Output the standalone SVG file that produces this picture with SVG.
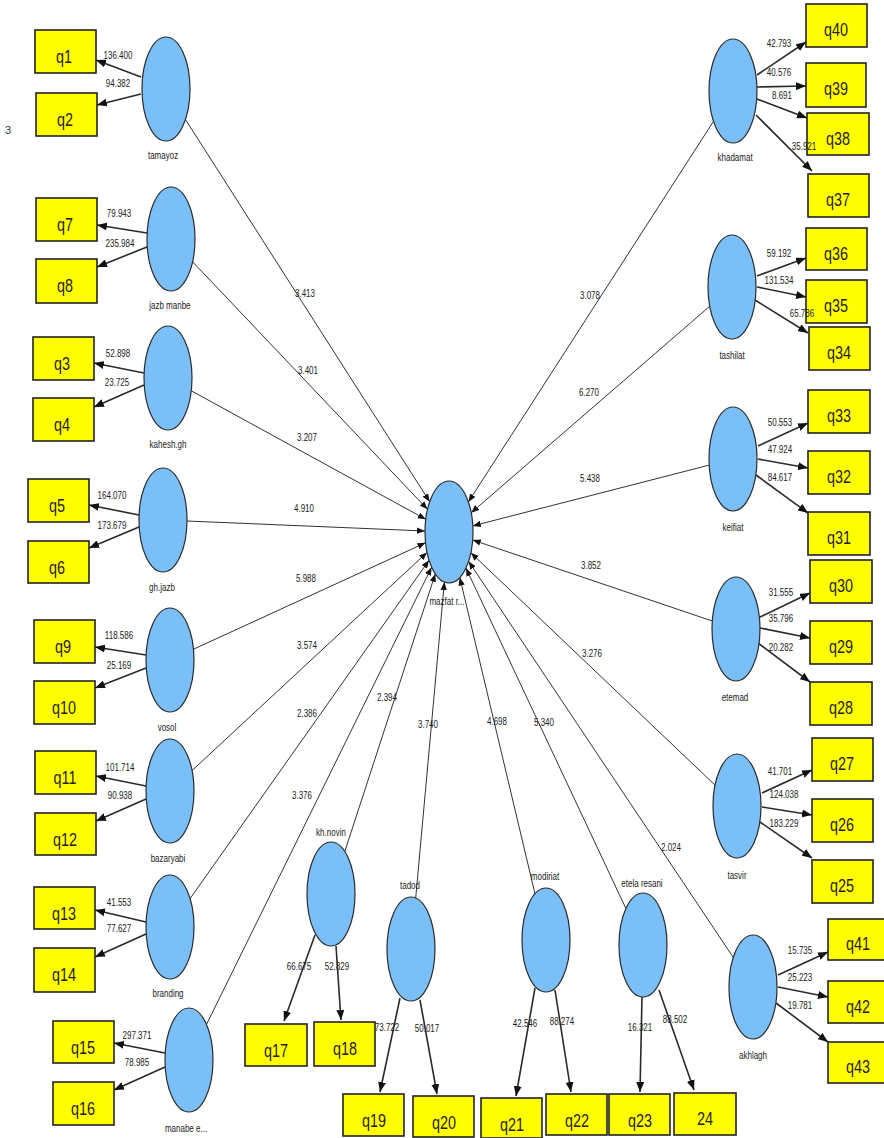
<svg xmlns="http://www.w3.org/2000/svg" width="884" height="1138" viewBox="0 0 884 1138">
  <style>
    .bg { fill: #ffffff; }
    .ind rect { fill: #ffff00; stroke: #222222; stroke-width: 1.6; }
    .ind text { font-family: "Liberation Sans Narrow", "Liberation Sans", Arial, sans-serif; font-size: 18px; fill: #2a1a10; text-anchor: middle; }
    .lv ellipse { fill: #7bbff9; stroke: #2a2a2a; stroke-width: 1.2; }
    .lv text, .lbl text { font-family: "Liberation Sans Narrow", "Liberation Sans", Arial, sans-serif; font-size: 10px; fill: #222222; text-anchor: middle; }
    /* condensed look for all labels */
    .ind text, .lv text, .lbl text { transform: scaleX(0.8); transform-box: fill-box; transform-origin: center; }
    .paths line { stroke: #333333; stroke-width: 1; fill: none; marker-end: url(#headS); }
    .loads line { stroke: #2a2a2a; stroke-width: 1.6; fill: none; marker-end: url(#headL); }
    .stray { font-family: "Liberation Sans", Arial, sans-serif; font-size: 11px; fill: #2a3a5a; }
  </style>
  <defs>
    <marker id="headS" viewBox="0 0 10 8" refX="10" refY="4" markerWidth="8" markerHeight="7" markerUnits="userSpaceOnUse" orient="auto">
      <path d="M0,0 L10,4 L0,8 z" fill="#111111"/>
    </marker>
    <marker id="headL" viewBox="0 0 10 8" refX="10" refY="4" markerWidth="10" markerHeight="8" markerUnits="userSpaceOnUse" orient="auto">
      <path d="M0,0 L10,4 L0,8 z" fill="#111111"/>
    </marker>
  </defs>

  <rect class="bg" x="0" y="0" width="884" height="1138"/>
  <text class="stray" x="5" y="134">3</text>

  <!-- structural paths into the central construct -->
  <g id="connectors">
    <g class="paths">
      <line x1="185.4" y1="119.4" x2="429.7" y2="501.7"/>
      <line x1="192.6" y1="261.8" x2="427.5" y2="509.3"/>
      <line x1="191.3" y1="390.8" x2="425.8" y2="519.3"/>
      <line x1="187" y1="521" x2="425" y2="531"/>
      <line x1="193.5" y1="649.2" x2="425.5" y2="542.8"/>
      <line x1="192.1" y1="770.5" x2="427" y2="552.4"/>
      <line x1="190.1" y1="898.6" x2="429" y2="560.3"/>
      <line x1="206.5" y1="1024.5" x2="431.6" y2="567.3"/>
      <line x1="344.8" y1="851.5" x2="435.3" y2="573.9"/>
      <line x1="415.7" y1="898" x2="444.4" y2="582.1"/>
      <line x1="535" y1="893.8" x2="459.8" y2="577.5"/>
      <line x1="625.9" y1="908.5" x2="466" y2="568.1"/>
      <line x1="733.3" y1="957.5" x2="468.6" y2="561.3"/>
      <line x1="715" y1="785.1" x2="470.9" y2="552.8"/>
      <line x1="712.3" y1="621" x2="472.7" y2="540"/>
      <line x1="709.2" y1="465.1" x2="472.8" y2="525.9"/>
      <line x1="709.7" y1="306.3" x2="471.2" y2="512.7"/>
      <line x1="713.5" y1="121.3" x2="468.4" y2="501.9"/>
    </g>
    <!-- outer model loadings -->
    <g class="loads">
      <line x1="141" y1="77" x2="96" y2="60"/>
      <line x1="141" y1="94" x2="97" y2="105"/>
      <line x1="147" y1="233" x2="97" y2="225"/>
      <line x1="147" y1="247" x2="97" y2="267"/>
      <line x1="144" y1="373" x2="94" y2="363"/>
      <line x1="144" y1="385" x2="94" y2="407"/>
      <line x1="139" y1="515" x2="89" y2="505"/>
      <line x1="139" y1="527" x2="89" y2="548"/>
      <line x1="146" y1="655" x2="95" y2="647"/>
      <line x1="146" y1="668" x2="95" y2="688"/>
      <line x1="146" y1="786" x2="96" y2="776"/>
      <line x1="146" y1="799" x2="96" y2="821"/>
      <line x1="146" y1="922" x2="95" y2="910"/>
      <line x1="146" y1="934" x2="95" y2="957"/>
      <line x1="165" y1="1053" x2="114" y2="1043"/>
      <line x1="165" y1="1067" x2="114" y2="1090"/>

      <line x1="315" y1="935" x2="284" y2="1021"/>
      <line x1="336" y1="946" x2="341" y2="1020"/>
      <line x1="400" y1="998" x2="380" y2="1092"/>
      <line x1="420" y1="1000" x2="437" y2="1094"/>
      <line x1="535" y1="988" x2="516" y2="1096"/>
      <line x1="555" y1="990" x2="571" y2="1092"/>
      <line x1="642" y1="997" x2="640" y2="1092"/>
      <line x1="659" y1="990" x2="694" y2="1090"/>

      <line x1="757" y1="75" x2="806" y2="42"/>
      <line x1="757" y1="87" x2="806" y2="86"/>
      <line x1="757" y1="99" x2="807" y2="118"/>
      <line x1="756" y1="115" x2="812" y2="171"/>
      <line x1="757" y1="276" x2="806" y2="258"/>
      <line x1="757" y1="287" x2="806" y2="297"/>
      <line x1="755" y1="300" x2="808" y2="333"/>
      <line x1="758" y1="446" x2="808" y2="423"/>
      <line x1="758" y1="459" x2="808" y2="468"/>
      <line x1="756" y1="475" x2="808" y2="513"/>
      <line x1="760" y1="617" x2="810" y2="593"/>
      <line x1="760" y1="628" x2="810" y2="638"/>
      <line x1="758" y1="643" x2="810" y2="682"/>
      <line x1="762" y1="793" x2="812" y2="770"/>
      <line x1="762" y1="807" x2="812" y2="815"/>
      <line x1="760" y1="822" x2="812" y2="858"/>
      <line x1="778" y1="975" x2="828" y2="952"/>
      <line x1="778" y1="987" x2="828" y2="997"/>
      <line x1="776" y1="1003" x2="828" y2="1042"/>
    </g>
  </g>

  <!-- latent constructs -->
  <g class="lv">
    <g id="mazfat"><ellipse cx="449" cy="532" rx="24" ry="51"/><text x="447" y="605">mazfat r...</text></g>
    <g id="tamayoz"><ellipse cx="166" cy="89" rx="24" ry="52"/><text x="163" y="159">tamayoz</text></g>
    <g id="jazb-manbe"><ellipse cx="171" cy="239" rx="24" ry="52"/><text x="170" y="309">jazb manbe</text></g>
    <g id="kahesh-gh"><ellipse cx="168" cy="378" rx="24" ry="52"/><text x="168" y="448">kahesh.gh</text></g>
    <g id="gh-jazb"><ellipse cx="163" cy="520" rx="24" ry="52"/><text x="162" y="591">gh.jazb</text></g>
    <g id="vosol"><ellipse cx="170" cy="660" rx="24" ry="52"/><text x="167" y="731">vosol</text></g>
    <g id="bazaryabi"><ellipse cx="170" cy="791" rx="24" ry="52"/><text x="168" y="862">bazaryabi</text></g>
    <g id="branding"><ellipse cx="170" cy="927" rx="24" ry="52"/><text x="168" y="997">branding</text></g>
    <g id="manabe-e"><ellipse cx="189" cy="1060" rx="24" ry="52"/><text x="186" y="1132">manabe e...</text></g>
    <g id="kh-novin"><ellipse cx="331" cy="894" rx="24" ry="52"/><text x="331" y="836">kh.novin</text></g>
    <g id="tadod"><ellipse cx="411" cy="949" rx="24" ry="52"/><text x="410" y="889">tadod</text></g>
    <g id="modiriat"><ellipse cx="546" cy="940" rx="24" ry="52"/><text x="545" y="880">modiriat</text></g>
    <g id="etela-resani"><ellipse cx="643" cy="945" rx="24" ry="52"/><text x="642" y="887">etela resani</text></g>
    <g id="khadamat"><ellipse cx="733" cy="91" rx="24" ry="52"/><text x="735" y="161">khadamat</text></g>
    <g id="tashilat"><ellipse cx="732" cy="287" rx="24" ry="52"/><text x="732" y="359">tashilat</text></g>
    <g id="keifiat"><ellipse cx="733" cy="459" rx="24" ry="52"/><text x="733" y="531">keifiat</text></g>
    <g id="etemad"><ellipse cx="736" cy="629" rx="24" ry="52"/><text x="735" y="701">etemad</text></g>
    <g id="tasvir"><ellipse cx="737" cy="806" rx="24" ry="52"/><text x="737" y="879">tasvir</text></g>
    <g id="akhlagh"><ellipse cx="753" cy="987" rx="24" ry="52"/><text x="753" y="1059">akhlagh</text></g>
  </g>

  <!-- indicators -->
  <g class="ind">
    <g id="q1"><rect x="35" y="30" width="61" height="43"/><text x="64" y="63">q1</text></g>
    <g id="q2"><rect x="36" y="93" width="61" height="43"/><text x="65" y="126">q2</text></g>
    <g id="q7"><rect x="36" y="198" width="61" height="43"/><text x="65" y="231">q7</text></g>
    <g id="q8"><rect x="36" y="259" width="61" height="44"/><text x="65" y="292">q8</text></g>
    <g id="q3"><rect x="33" y="337" width="61" height="43"/><text x="62" y="370">q3</text></g>
    <g id="q4"><rect x="33" y="398" width="61" height="43"/><text x="62" y="431">q4</text></g>
    <g id="q5"><rect x="28" y="479" width="61" height="43"/><text x="57" y="512">q5</text></g>
    <g id="q6"><rect x="28" y="541" width="61" height="42"/><text x="57" y="574">q6</text></g>
    <g id="q9"><rect x="34" y="620" width="61" height="43"/><text x="63" y="653">q9</text></g>
    <g id="q10"><rect x="34" y="681" width="61" height="43"/><text x="64" y="714">q10</text></g>
    <g id="q11"><rect x="35" y="751" width="61" height="43"/><text x="65" y="784">q11</text></g>
    <g id="q12"><rect x="35" y="813" width="61" height="42"/><text x="65" y="846">q12</text></g>
    <g id="q13"><rect x="34" y="887" width="61" height="42"/><text x="64" y="920">q13</text></g>
    <g id="q14"><rect x="34" y="948" width="61" height="44"/><text x="64" y="981">q14</text></g>
    <g id="q15"><rect x="53" y="1021" width="61" height="42"/><text x="83" y="1054">q15</text></g>
    <g id="q16"><rect x="53" y="1082" width="61" height="43"/><text x="83" y="1115">q16</text></g>

    <g id="q17"><rect x="245" y="1024" width="62" height="42"/><text x="276" y="1057">q17</text></g>
    <g id="q18"><rect x="314" y="1022" width="61" height="44"/><text x="345" y="1055">q18</text></g>
    <g id="q19"><rect x="343" y="1094" width="61" height="42"/><text x="374" y="1127">q19</text></g>
    <g id="q20"><rect x="413" y="1096" width="61" height="41"/><text x="444" y="1129">q20</text></g>
    <g id="q21"><rect x="481" y="1098" width="61" height="40"/><text x="512" y="1131">q21</text></g>
    <g id="q22"><rect x="546" y="1094" width="61" height="41"/><text x="577" y="1127">q22</text></g>
    <g id="q23"><rect x="609" y="1094" width="61" height="41"/><text x="640" y="1127">q23</text></g>
    <g id="n24"><rect x="674" y="1093" width="62" height="42"/><text x="705" y="1125">24</text></g>

    <g id="q40"><rect x="806" y="4" width="61" height="43"/><text x="836" y="36">q40</text></g>
    <g id="q39"><rect x="806" y="63" width="60" height="44"/><text x="836" y="95">q39</text></g>
    <g id="q38"><rect x="807" y="113" width="62" height="42"/><text x="838" y="145">q38</text></g>
    <g id="q37"><rect x="808" y="174" width="61" height="43"/><text x="838" y="206">q37</text></g>
    <g id="q36"><rect x="806" y="228" width="61" height="42"/><text x="836" y="260">q36</text></g>
    <g id="q35"><rect x="806" y="280" width="61" height="43"/><text x="836" y="312">q35</text></g>
    <g id="q34"><rect x="809" y="327" width="61" height="43"/><text x="839" y="359">q34</text></g>
    <g id="q33"><rect x="808" y="390" width="62" height="43"/><text x="839" y="422">q33</text></g>
    <g id="q32"><rect x="808" y="451" width="62" height="43"/><text x="839" y="483">q32</text></g>
    <g id="q31"><rect x="808" y="512" width="62" height="43"/><text x="839" y="544">q31</text></g>
    <g id="q30"><rect x="810" y="560" width="62" height="43"/><text x="841" y="592">q30</text></g>
    <g id="q29"><rect x="810" y="621" width="62" height="43"/><text x="841" y="653">q29</text></g>
    <g id="q28"><rect x="810" y="682" width="62" height="43"/><text x="841" y="714">q28</text></g>
    <g id="q27"><rect x="812" y="738" width="61" height="43"/><text x="842" y="770">q27</text></g>
    <g id="q26"><rect x="812" y="799" width="61" height="43"/><text x="842" y="831">q26</text></g>
    <g id="q25"><rect x="812" y="860" width="61" height="43"/><text x="842" y="892">q25</text></g>
    <g id="q41"><rect x="828" y="919" width="61" height="41"/><text x="858" y="950">q41</text></g>
    <g id="q42"><rect x="828" y="981" width="61" height="42"/><text x="858" y="1013">q42</text></g>
    <g id="q43"><rect x="828" y="1042" width="61" height="41"/><text x="858" y="1073">q43</text></g>
  </g>

  <!-- coefficient and loading labels, drawn over everything -->
  <g class="lbl">
    <text x="305" y="297">3.413</text>
    <text x="308" y="374">3.401</text>
    <text x="307" y="441">3.207</text>
    <text x="304" y="512">4.910</text>
    <text x="306" y="582">5.988</text>
    <text x="307" y="649">3.574</text>
    <text x="307" y="717">2.386</text>
    <text x="302" y="799">3.376</text>
    <text x="387" y="701">2.394</text>
    <text x="428" y="728">3.740</text>
    <text x="497" y="725">4.698</text>
    <text x="544" y="726">5.340</text>
    <text x="671" y="851">2.024</text>
    <text x="590" y="299">3.078</text>
    <text x="589" y="396">6.270</text>
    <text x="590" y="482">5.438</text>
    <text x="591" y="569">3.852</text>
    <text x="592" y="657">3.276</text>

    <text x="118" y="59">136.400</text>
    <text x="118" y="87">94.382</text>
    <text x="119" y="217">79.943</text>
    <text x="120" y="247">235.984</text>
    <text x="118" y="357">52.898</text>
    <text x="117" y="386">23.725</text>
    <text x="112" y="499">164.070</text>
    <text x="112" y="529">173.679</text>
    <text x="119" y="639">118.586</text>
    <text x="119" y="669">25.169</text>
    <text x="120" y="771">101.714</text>
    <text x="120" y="799">90.938</text>
    <text x="119" y="906">41.553</text>
    <text x="119" y="932">77.627</text>
    <text x="137" y="1039">297.371</text>
    <text x="137" y="1066">78.985</text>

    <text x="299" y="970">66.675</text>
    <text x="337" y="970">52.829</text>
    <text x="387" y="1031">73.722</text>
    <text x="427" y="1032">50.017</text>
    <text x="525" y="1027">42.546</text>
    <text x="562" y="1025">88.274</text>
    <text x="640" y="1031">16.321</text>
    <text x="675" y="1023">88.502</text>

    <text x="779" y="47">42.793</text>
    <text x="779" y="76">40.576</text>
    <text x="782" y="99">8.691</text>
    <text x="804" y="150">35.921</text>
    <text x="779" y="257">59.192</text>
    <text x="779" y="284">131.534</text>
    <text x="802" y="317">65.786</text>
    <text x="780" y="426">50.553</text>
    <text x="780" y="453">47.924</text>
    <text x="780" y="481">84.617</text>
    <text x="781" y="596">31.555</text>
    <text x="781" y="622">35.796</text>
    <text x="781" y="651">20.282</text>
    <text x="780" y="775">41.701</text>
    <text x="784" y="798">124.038</text>
    <text x="784" y="827">183.229</text>
    <text x="800" y="954">15.735</text>
    <text x="800" y="981">25.223</text>
    <text x="800" y="1009">19.781</text>
  </g>
</svg>
